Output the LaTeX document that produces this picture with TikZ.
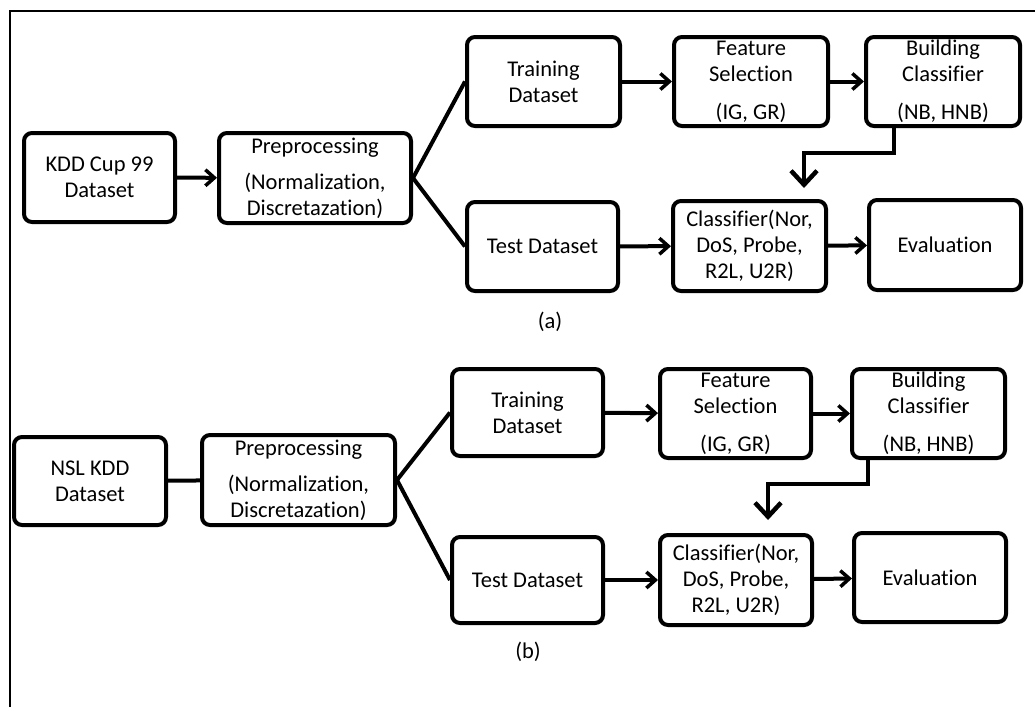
\documentclass[tikz,border=0pt]{standalone}
\usepackage{fontspec}
\setmainfont{Carlito}[Ligatures={NoCommon}]
\usetikzlibrary{arrows.meta}
\begin{document}
\begin{tikzpicture}[x=1pt,y=-1pt,
  box/.style={draw, line width=4pt, rounded corners=8pt, align=center, inner sep=0pt,
    font=\fontsize{22.5}{26}\selectfont},
  conn/.style={line width=4pt},
  arr/.style={line width=4pt, -{Straight Barb[length=9pt,width=16pt,line width=3.5pt]}},
  bigarr/.style={line width=4pt, -{Straight Barb[length=14pt,width=26pt,line width=4.5pt]}},
  lbl/.style={font=\fontsize{22.5}{26}\selectfont, inner sep=0pt},
  frame/.style={line width=2pt}]
\useasboundingbox (0,0) rectangle (1035,707);
\fill[white] (0,0) rectangle (1035,707);
\coordinate (fA) at (10,707);
\coordinate (fB) at (10,11);
\coordinate (fC) at (1035,11);
\draw[frame] (fA) -- (fB) -- (fC);

% ---------- (a) ----------
\node[box, minimum width=151pt, minimum height=89pt] (kdd) at (99.5,177.5) {KDD Cup 99\\Dataset};
\node[box, minimum width=192pt, minimum height=90pt] (preA) at (315,178) {Preprocessing\\[10pt](Normalization,\\Discretazation)};
\node[box, minimum width=153pt, minimum height=89pt] (trainA) at (543.5,81.5) {Training\\Dataset};
\node[box, minimum width=151pt, minimum height=89pt] (testA) at (542.5,246.5) {Test Dataset};
\node[box, minimum width=154pt, minimum height=89pt] (fsA) at (751,81.5) {Feature\\Selection\\[12pt](IG, GR)};
\node[box, minimum width=154pt, minimum height=89pt] (bcA) at (943,81.5) {Building\\Classifier\\[12pt](NB, HNB)};
\node[box, minimum width=153pt, minimum height=90pt] (clA) at (749.5,246) {Classifier(Nor,\\DoS, Probe,\\R2L, U2R)};
\node[box, minimum width=152pt, minimum height=90pt] (evA) at (945,245) {Evaluation};
\node[lbl] (labA) at (550,322) {(a)};

\draw[arr] (kdd) -- (preA);
\draw[conn] (preA.east) -- (trainA.west);
\draw[conn] (preA.east) -- (testA.west);
\draw[arr] (trainA) -- (fsA);
\draw[arr] (fsA) -- (bcA);
\draw[arr] (testA) -- (clA);
\draw[arr] (clA) -- (evA);
\coordinate (eA1) at (894,126);
\coordinate (eA2) at (894,153);
\coordinate (eA3) at (804,153);
\coordinate (eA4) at (804,188);
\draw[bigarr, line join=miter] (eA1) -- (eA2) -- (eA3) -- (eA4);

% ---------- (b) ----------
\node[box, minimum width=152pt, minimum height=88pt] (nsl) at (90,481) {NSL KDD\\Dataset};
\node[box, minimum width=193pt, minimum height=90pt] (preB) at (298.5,480) {Preprocessing\\[10pt](Normalization,\\Discretazation)};
\node[box, minimum width=151pt, minimum height=87pt] (trainB) at (527.5,412.5) {Training\\Dataset};
\node[box, minimum width=151pt, minimum height=86pt] (testB) at (527.5,580) {Test Dataset};
\node[box, minimum width=151pt, minimum height=89pt] (fsB) at (735.5,413.5) {Feature\\Selection\\[12pt](IG, GR)};
\node[box, minimum width=153pt, minimum height=89pt] (bcB) at (928.5,413.5) {Building\\Classifier\\[12pt](NB, HNB)};
\node[box, minimum width=152pt, minimum height=90pt] (clB) at (736,580) {Classifier(Nor,\\DoS, Probe,\\R2L, U2R)};
\node[box, minimum width=152pt, minimum height=89pt] (evB) at (930,577.5) {Evaluation};
\node[lbl] (labB) at (528,652) {(b)};

\draw[conn] (nsl) -- (preB);
\draw[conn] (preB.east) -- (trainB.west);
\draw[conn] (preB.east) -- (testB.west);
\draw[arr] (trainB) -- (fsB);
\draw[arr] (fsB) -- (bcB);
\draw[arr] (testB) -- (clB);
\draw[arr] (clB) -- (evB);
\coordinate (eB1) at (868,458);
\coordinate (eB2) at (868,484);
\coordinate (eB3) at (768,484);
\coordinate (eB4) at (768,520);
\draw[bigarr, line join=miter] (eB1) -- (eB2) -- (eB3) -- (eB4);
\end{tikzpicture}
\end{document}
